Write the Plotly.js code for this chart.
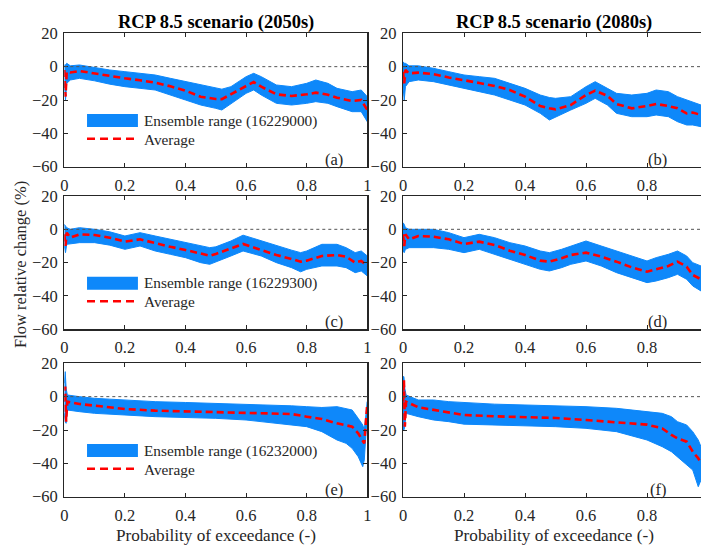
<!DOCTYPE html>
<html>
<head>
<meta charset="utf-8">
<script src="https://cdn.plot.ly/plotly-3.0.1.min.js"></script>
<style>html,body{margin:0;padding:0;background:#fff}#chart{width:701px;height:545px}</style>
</head>
<body>
<div id="chart"></div>
<script>
// ---- Data (probability of exceedance vs flow relative change %) ----
var pA   = [0,0.004,0.008,0.02,0.05,0.1,0.15,0.2,0.25,0.3,0.35,0.4,0.45,0.5,0.52,0.55,0.6,0.625,0.65,0.7,0.75,0.8,0.83,0.87,0.9,0.95,0.98,1.0];
var avgA = [-2,-18,-3,-3.5,-2.6,-4.2,-5.6,-7,-8.2,-9.6,-11.8,-14.4,-18,-19.4,-19.5,-16.4,-11.6,-9.2,-12,-16.6,-17.6,-16.6,-15.6,-16.8,-18.6,-20.6,-20,-26];
var upA  = [1,1,2,0.5,1,-0.5,-2,-3,-4,-5,-7,-9,-11,-13,-13.5,-12,-6,-4,-6,-11,-12,-10,-8,-10,-13,-15,-14,-18];
var loA  = [-10,-20,-10,-8,-7,-8.5,-10.5,-12,-13,-14,-17,-20,-23,-25,-26,-22,-16,-14,-17,-22,-23,-22,-21,-22,-24,-27,-27,-33];

var pB   = [0,0.004,0.008,0.02,0.05,0.1,0.15,0.2,0.25,0.3,0.35,0.4,0.45,0.48,0.5,0.55,0.6,0.63,0.67,0.7,0.75,0.8,0.83,0.87,0.9,0.93,0.95,0.977];
var avgB = [-3,-10,-2,-4,-3.6,-4.5,-6.5,-8,-9.8,-11.6,-14,-18,-23.6,-25,-25.6,-23,-17,-14.4,-17.5,-22.4,-25,-23.6,-22.4,-23.6,-25,-28,-27.5,-29];
var upB  = [3,2,2,0.5,0.5,-1,-3,-5,-6,-7,-10,-13,-17,-18.5,-19,-18,-12,-9,-13,-16,-17,-16,-14,-15,-18,-20,-21,-23];
var loB  = [-12,-20,-12,-9,-8,-9,-11,-13,-15,-17,-20,-23,-28,-32,-30,-26,-22,-19,-23,-28,-30,-30,-29,-30,-33,-35,-35,-36];

var pC   = [0,0.004,0.008,0.02,0.05,0.1,0.15,0.2,0.25,0.3,0.35,0.4,0.45,0.48,0.5,0.55,0.59,0.65,0.7,0.75,0.78,0.8,0.85,0.9,0.93,0.96,0.98,1.0];
var avgC = [-3,-10,-2,-5,-3,-3.4,-5,-7.4,-6,-8.4,-10.5,-12.4,-14.8,-15.8,-14.8,-11.4,-8.8,-12.4,-15.4,-17.8,-19.4,-18.8,-16,-15.4,-16.4,-20,-19,-22];
var upC  = [3,2,1,0,1,0,-1.5,-4,-2,-4,-6,-8,-10,-11,-10.5,-7,-3.5,-7,-10,-12.5,-14,-13,-9,-9,-11,-14,-13,-16];
var loC  = [-10,-14,-9,-9,-8,-8,-9.5,-12,-10,-13,-15,-17,-20,-21,-19.5,-16,-13,-16,-20,-23,-25.5,-24,-22,-22,-23,-26,-25,-28];

var pD   = [0,0.004,0.008,0.02,0.05,0.1,0.15,0.2,0.25,0.3,0.35,0.4,0.45,0.48,0.52,0.55,0.6,0.65,0.7,0.75,0.8,0.83,0.87,0.9,0.93,0.95,0.977];
var avgD = [-3,-10,-3,-6,-4,-4.4,-6,-8.8,-7.4,-9.4,-12.8,-15.4,-18.8,-19.4,-17.4,-15.4,-14,-16.4,-19.4,-22.8,-25.4,-24,-22,-19.4,-22.4,-27.4,-30];
var upD  = [4,3,1,0,0,0,-2,-5,-3,-5,-8,-10,-13,-14,-12,-10,-7,-10,-13,-16,-19,-17,-15,-13,-16,-20,-22];
var loD  = [-13,-14,-12,-11,-11,-11,-12,-14,-12,-15,-18,-21,-24,-25,-23,-21,-19,-22,-26,-29,-32,-31,-29,-27,-30,-34,-37];

var pE   = [0,0.003,0.006,0.01,0.05,0.1,0.15,0.2,0.3,0.4,0.5,0.6,0.7,0.75,0.8,0.85,0.9,0.93,0.95,0.97,0.985,0.99,1.0];
var avgE = [-3,6,-15,-3,-4.4,-5.4,-6.5,-7.4,-8.4,-8.8,-9,-9.6,-9.8,-10.4,-12,-13.4,-16,-17,-18,-22,-27,-28,-4];
var upE  = [8,15,5,1,0,-1,-1.5,-2,-3,-3.5,-4,-4.5,-5,-5.5,-6,-6.5,-6,-7,-8,-13,-17,-20,-3];
var loE  = [-10,-15,-16,-8,-9,-10,-10.5,-11,-12,-12.5,-13,-14,-16,-17,-18,-21,-26,-28,-31,-36,-42,-38,-10];

var pF   = [0,0.003,0.006,0.01,0.05,0.1,0.15,0.2,0.3,0.4,0.5,0.6,0.7,0.8,0.85,0.88,0.9,0.93,0.95,0.968,0.977];
var avgF = [-3,10,-18,-3,-6.4,-8,-9.5,-11,-11.8,-12.4,-12.8,-14,-15.4,-16.8,-19,-23,-25,-27,-33,-37,-40];
var upF  = [12,12,5,1,-2,-2,-3,-3.5,-4.5,-5,-5.5,-6,-7,-9,-10,-12,-15,-17,-21,-26,-30];
var loF  = [-20,-20,-18,-10,-12,-14,-15,-16.5,-17,-17.5,-18,-19,-21,-26,-30,-33,-36,-41,-44,-54,-50];

var panelLabels = ['(a)','(b)','(c)','(d)','(e)','(f)'];
var gaugeIds    = ['16229000','16229300','16232000'];
var colTitles   = ['RCP 8.5 scenario (2050s)','RCP 8.5 scenario (2080s)'];
var xTicks      = [0,0.2,0.4,0.6,0.8,1];
var yTicks      = [-60,-40,-20,0,20];

// ---- Build ----
var BLUE = 'rgb(14,136,250)', RED = 'rgb(255,0,0)', INK = '#262626';
var FONT = '"Liberation Serif", "Times New Roman", serif';
var panels = [
  {p:pA, avg:avgA, up:upA, lo:loA},
  {p:pB, avg:avgB, up:upB, lo:loB},
  {p:pC, avg:avgC, up:upC, lo:loC},
  {p:pD, avg:avgD, up:upD, lo:loD},
  {p:pE, avg:avgE, up:upE, lo:loE},
  {p:pF, avg:avgF, up:upF, lo:loF}
];
var W = 701, H = 545;
var xDomL = [64.3/W, 367.3/W], xDomR = [403/W, 1];
var rowsPx = [[33.3,166.7],[196,329.3],[363.3,496.7]];

var traces = [], shapes = [], annotations = [];
var layout = {
  width: W, height: H, margin:{l:0,r:0,t:0,b:0},
  paper_bgcolor:'#fff', plot_bgcolor:'#fff', showlegend:false,
  font:{family:FONT, color:INK}
};

panels.forEach(function(d, i){
  var n = i+1, xa = 'x'+(n===1?'':n), ya = 'y'+(n===1?'':n);
  var right = (i % 2 === 1), row = Math.floor(i/2);
  var polyX = d.p.concat(d.p.slice().reverse());
  var polyY = d.up.concat(d.lo.slice().reverse());
  traces.push({x:polyX, y:polyY, xaxis:xa, yaxis:ya, type:'scatter', mode:'lines',
    fill:'toself', fillcolor:BLUE, line:{color:BLUE, width:1}, hoverinfo:'skip'});
  traces.push({x:d.p, y:d.avg, xaxis:xa, yaxis:ya, type:'scatter', mode:'lines',
    line:{color:RED, width:2.6, dash:'7px,4px'}});
  var yDom = [1 - rowsPx[row][1]/H, 1 - rowsPx[row][0]/H];
  var axCommon = {showline:true, linecolor:INK, linewidth:1.3, ticks:'inside', ticklen:4,
    tickcolor:INK, tickwidth:1, showgrid:false, zeroline:false, automargin:false,
    tickfont:{family:FONT, size:16.5, color:INK}};
  layout['xaxis'+(n===1?'':n)] = Object.assign({}, axCommon, {
    domain: right ? xDomR : xDomL, anchor: ya, ticklabelstandoff:3,
    range: right ? [0, 0.977] : [0, 1], tickvals: xTicks, ticktext: xTicks.map(String),
    mirror:'ticks'});
  layout['yaxis'+(n===1?'':n)] = Object.assign({}, axCommon, {
    domain: yDom, anchor: xa, range:[-60,20], tickvals: yTicks, ticklabelstandoff:2,
    mirror: right ? false : 'ticks'});
  shapes.push({type:'line', xref:xa+' domain', yref:ya, x0:0, x1:1, y0:0, y1:0,
    line:{color:'#555', width:1, dash:'3px,3px'}});
  annotations.push({xref:xa, yref:ya, x: right ? 0.836 : 0.89, y:-55.5, text:panelLabels[i],
    xanchor:'center', yanchor:'middle',
    showarrow:false, font:{family:FONT, size:16.5, color:INK}});
  if(!right){
    shapes.push({type:'rect', xref:xa, yref:ya, x0:0.075, x1:0.243, y0:-36.2, y1:-28.4,
      fillcolor:BLUE, line:{width:0}});
    shapes.push({type:'line', xref:xa, yref:ya, x0:0.075, x1:0.243, y0:-43.2, y1:-43.2,
      line:{color:RED, width:2.6, dash:'8px,5px'}});
    annotations.push({xref:xa, yref:ya, x:0.258, y:-32.5, xanchor:'left', yanchor:'middle', showarrow:false,
      text:'Ensemble range ('+gaugeIds[row]+')', font:{family:FONT, size:15.3, color:INK}});
    annotations.push({xref:xa, yref:ya, x:0.258, y:-43.6, xanchor:'left', yanchor:'middle', showarrow:false,
      text:'Average', font:{family:FONT, size:15.3, color:INK}});
  }
});

function paperText(xpx, ypx, txt, size, color, angle){
  var a = {xref:'paper', yref:'paper', x:xpx/W, y:1-ypx/H, text:txt, xanchor:'center', yanchor:'middle',
    showarrow:false, font:{family:FONT, size:size, color:color}};
  if(angle) a.textangle = angle;
  annotations.push(a);
}
paperText(215.8, 22, '<b>'+colTitles[0]+'</b>', 18.5, '#000');
paperText(553.8, 22, '<b>'+colTitles[1]+'</b>', 18.5, '#000');
paperText(215.8, 535, 'Probability of exceedance (-)', 17.2, INK);
paperText(553.8, 535, 'Probability of exceedance (-)', 17.2, INK);
paperText(20, 265, 'Flow relative change (%)', 16.5, INK, -90);

layout.shapes = shapes;
layout.annotations = annotations;
Plotly.newPlot('chart', traces, layout, {staticPlot:true, displayModeBar:false});
</script>
</body>
</html>
